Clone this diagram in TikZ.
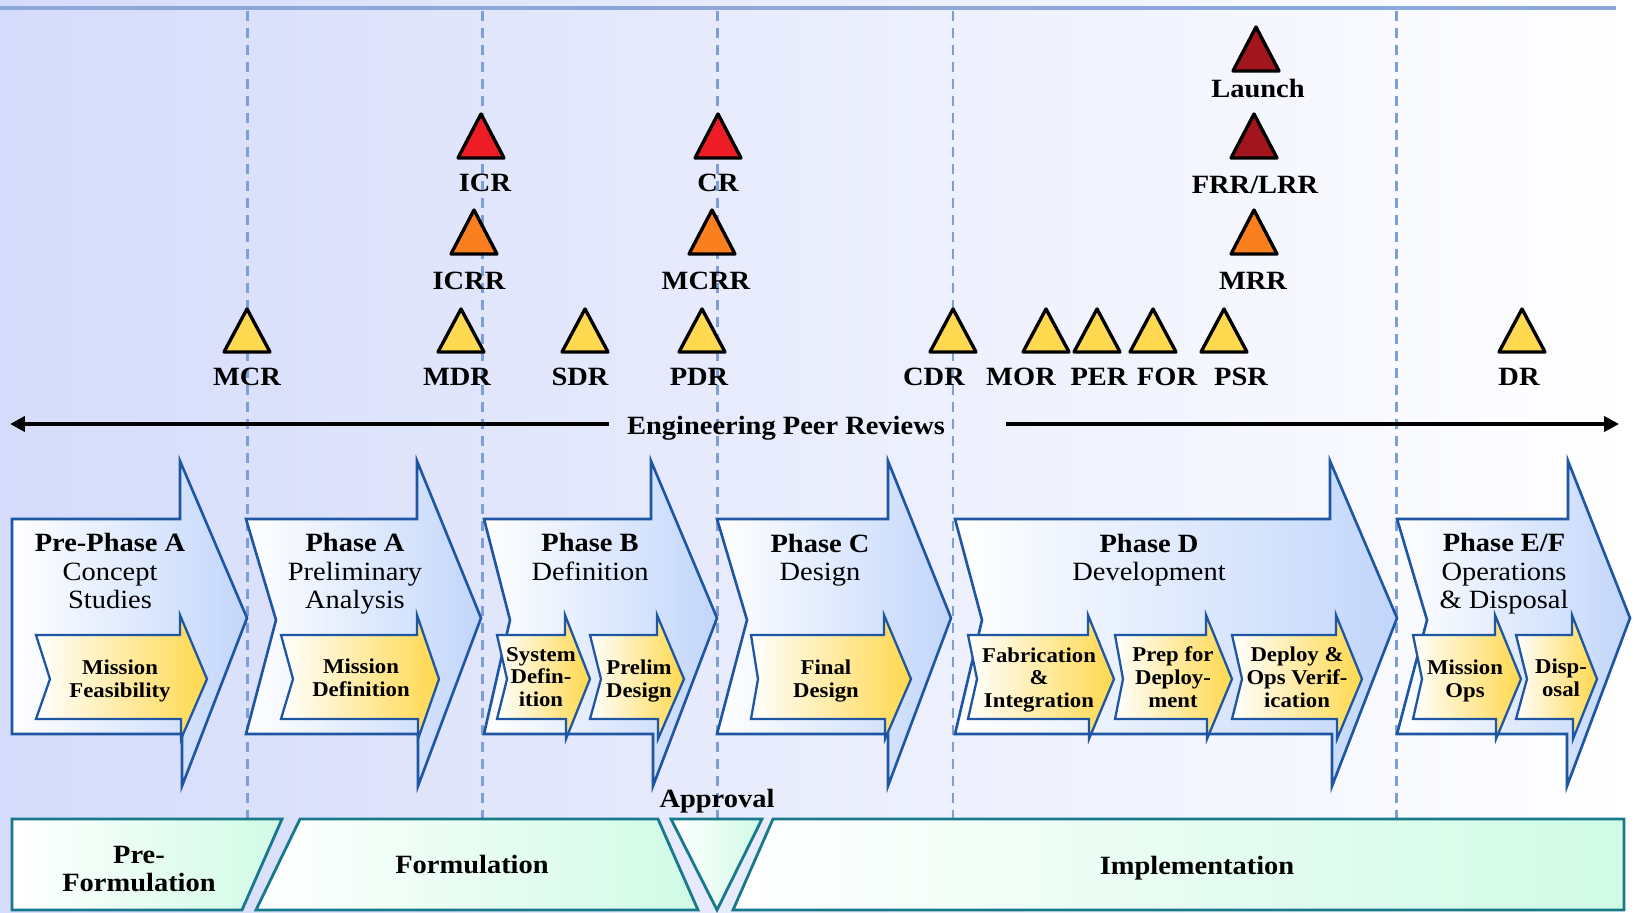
\documentclass[tikz,border=0pt]{standalone}
\usepackage{fontspec}
\setmainfont{Liberation Serif}[FakeStretch=1.08]
\usepackage{xcolor}
\usepackage{tikz}
\usetikzlibrary{positioning,arrows.meta,calc}

\definecolor{bgleft}{HTML}{D5DBFA}
\definecolor{topline}{HTML}{8CA8DB}
\definecolor{gridblue}{HTML}{7F9DD6}
\definecolor{phaseline}{HTML}{1F56A3}
\definecolor{phaseblue}{HTML}{C2D6FB}
\definecolor{taskgold}{HTML}{FFD84D}
\definecolor{stageline}{HTML}{18798A}
\definecolor{stagemint}{HTML}{D0FBE6}
\definecolor{msyellow}{HTML}{FFD94F}
\definecolor{msorange}{HTML}{F97F1F}
\definecolor{msred}{HTML}{EE1C25}
\definecolor{msdark}{HTML}{A3151D}

\begin{document}
\begin{tikzpicture}[
  x=0.02cm, y=-0.02cm,
  phase/.style={draw=phaseline, line width=1.5pt, left color=white,
                middle color=phaseblue!35!white, right color=phaseblue},
  task/.style={draw=phaseline, line width=1.3pt, left color=white,
               middle color=taskgold!45!white, right color=taskgold},
  stage/.style={draw=stageline, line width=1.6pt, left color=white,
                middle color=stagemint!45!white, right color=stagemint},
  mile/.style={draw=black, line width=1.9pt, line join=round},
  gate/.style={draw=gridblue, line width=1.4pt, dash pattern=on 0.2cm off 0.14cm},
  phasetxt/.style={align=center, font=\fontsize{15}{16.2}\selectfont},
  tasktxt/.style={align=center, font=\bfseries\fontsize{12}{13}\selectfont},
  lbl/.style={inner sep=0pt, font=\bfseries\fontsize{15}{16.2}\selectfont},
  peer/.style={line width=2.4pt, -{Triangle[length=0.3cm, width=0.3cm]}}
]
  \useasboundingbox (0,0) rectangle (1638,912);
  \shade[left color=bgleft, right color=white] (0,0) rectangle (1638,912);
  \draw[topline, line width=2pt] (0,8) -- (1616,8);

  % phase boundaries
  \draw[gate] (247.5,11) -- (247.5,819);
  \draw[gate] (482.7,11) -- (482.7,819);
  \draw[gate] (717.6,11) -- (717.6,819);
  \draw[gate] (952.8,11) -- (952.8,819);
  \draw[gate] (1396.5,11) -- (1396.5,819);

  % phases
  \draw[phase] (12,519) -- (180,519) -- (180,461) -- (247,618) -- (182,786) -- (182,734) -- (12,734) -- cycle;
  \draw[phase] (246,519) -- (417,519) -- (417,461) -- (481,618) -- (418,786) -- (418,734) -- (246,734) -- (276,620) -- cycle;
  \draw[phase] (484,519) -- (651,519) -- (651,461) -- (717,618) -- (653,786) -- (653,734) -- (484,734) -- (510,620) -- cycle;
  \draw[phase] (717,519) -- (888,519) -- (888,461) -- (951,618) -- (888,786) -- (888,734) -- (717,734) -- (747,620) -- cycle;
  \draw[phase] (955,519) -- (1330,519) -- (1330,461) -- (1397,618) -- (1332,786) -- (1332,734) -- (955,734) -- (982,620) -- cycle;
  \draw[phase] (1397,519) -- (1568,519) -- (1568,461) -- (1630,618) -- (1567,786) -- (1567,734) -- (1397,734) -- (1427,620) -- cycle;

  % tasks
  \draw[task] (36,635) -- (180,635) -- (180,615) -- (207,679) -- (181,739) -- (181,719) -- (36,719) -- (50,679) -- cycle;
  \draw[task] (281,635) -- (417,635) -- (417,615) -- (439,679) -- (418,739) -- (418,719) -- (281,719) -- (293,679) -- cycle;
  \draw[task] (497,635) -- (565,635) -- (565,615) -- (590,679) -- (566,739) -- (566,719) -- (497,719) -- (507,679) -- cycle;
  \draw[task] (590,635) -- (657,635) -- (657,615) -- (684,679) -- (658,739) -- (658,719) -- (590,719) -- (601,679) -- cycle;
  \draw[task] (751,635) -- (884,635) -- (884,615) -- (911,679) -- (885,739) -- (885,719) -- (751,719) -- (758,679) -- cycle;
  \draw[task] (968,635) -- (1088,635) -- (1088,615) -- (1114,679) -- (1089,739) -- (1089,719) -- (968,719) -- (977,679) -- cycle;
  \draw[task] (1115,635) -- (1206,635) -- (1206,615) -- (1232,679) -- (1207,739) -- (1207,719) -- (1115,719) -- (1123,679) -- cycle;
  \draw[task] (1232,635) -- (1336,635) -- (1336,615) -- (1362,679) -- (1337,739) -- (1337,719) -- (1232,719) -- (1242,679) -- cycle;
  \draw[task] (1413,635) -- (1495,635) -- (1495,615) -- (1521,679) -- (1496,739) -- (1496,719) -- (1413,719) -- (1422,679) -- cycle;
  \draw[task] (1516,635) -- (1572,635) -- (1572,615) -- (1597,679) -- (1573,739) -- (1573,719) -- (1516,719) -- (1527,679) -- cycle;

  \node[phasetxt] (prea) at (110,571) {\textbf{Pre-Phase A}\\Concept\\Studies};
  \node[phasetxt] (pha) at (355,574) {\textbf{Phase A}\\Preliminary\\Analysis};
  \node[phasetxt] (phb) at (590,557) {\textbf{Phase B}\\Definition};
  \node[phasetxt] (phc) at (820,560) {\textbf{Phase C}\\Design};
  \node[phasetxt] (phd) at (1149,560) {\textbf{Phase D}\\Development};
  \node[phasetxt] (phef) at (1504,574) {\textbf{Phase E/F}\\Operations\\\& Disposal};

  \node[tasktxt] (feas) at (120,681) {Mission\\Feasibility};
  \node[tasktxt] (mdef) at (361,678) {Mission\\Definition};
  \node[tasktxt] (sysdef) at (541,677) {System\\Defin-\\ition};
  \node[tasktxt] (prelim) at (639,681) {Prelim\\Design};
  \node[tasktxt] (final) at (826,681) {Final\\Design};
  \node[tasktxt] (fabint) at (1039,680) {Fabrication\\\&\\Integration};
  \node[tasktxt] (prepdep) at (1173,677) {Prep for\\Deploy-\\ment};
  \node[tasktxt] (depops) at (1297,677) {Deploy \&\\Ops Verif-\\ication};
  \node[tasktxt] (misops) at (1465,681) {Mission\\Ops};
  \node[tasktxt] (disp) at (1561,678) {Disp-\\osal};

  % milestones
  \draw[mile, fill=msyellow] (224,352) -- ++(23,-43) -- ++(23,43) -- cycle;
  \draw[mile, fill=msyellow] (438,352) -- ++(23,-43) -- ++(23,43) -- cycle;
  \draw[mile, fill=msyellow] (562,352) -- ++(23,-43) -- ++(23,43) -- cycle;
  \draw[mile, fill=msyellow] (679,352) -- ++(23,-43) -- ++(23,43) -- cycle;
  \draw[mile, fill=msyellow] (930,352) -- ++(23,-43) -- ++(23,43) -- cycle;
  \draw[mile, fill=msyellow] (1023,352) -- ++(23,-43) -- ++(23,43) -- cycle;
  \draw[mile, fill=msyellow] (1074,352) -- ++(23,-43) -- ++(23,43) -- cycle;
  \draw[mile, fill=msyellow] (1130,352) -- ++(23,-43) -- ++(23,43) -- cycle;
  \draw[mile, fill=msyellow] (1201,352) -- ++(23,-43) -- ++(23,43) -- cycle;
  \draw[mile, fill=msyellow] (1499,352) -- ++(23,-43) -- ++(23,43) -- cycle;
  \draw[mile, fill=msorange] (451,254) -- ++(23,-44) -- ++(23,44) -- cycle;
  \draw[mile, fill=msorange] (689,254) -- ++(23,-44) -- ++(23,44) -- cycle;
  \draw[mile, fill=msorange] (1231,254) -- ++(23,-44) -- ++(23,44) -- cycle;
  \draw[mile, fill=msred] (458,158) -- ++(23,-44) -- ++(23,44) -- cycle;
  \draw[mile, fill=msred] (695,158) -- ++(23,-44) -- ++(23,44) -- cycle;
  \draw[mile, fill=msdark] (1231,158) -- ++(23,-44) -- ++(23,44) -- cycle;
  \draw[mile, fill=msdark] (1233,71) -- ++(23,-44) -- ++(23,44) -- cycle;

  \node[lbl] (mcr) at (247,377) {MCR};
  \node[lbl] (mdr) at (457,377) {MDR};
  \node[lbl] (sdr) at (580,377) {SDR};
  \node[lbl] (pdr) at (699,377) {PDR};
  \node[lbl] (cdr) at (934,377) {CDR};
  \node[lbl] (mor) at (1021,377) {MOR};
  \node[lbl] (per) at (1099,377) {PER};
  \node[lbl] (for) at (1167,377) {FOR};
  \node[lbl] (psr) at (1241,377) {PSR};
  \node[lbl] (dr) at (1519,377) {DR};
  \node[lbl] (icrr) at (469,281) {ICRR};
  \node[lbl] (mcrr) at (706,281) {MCRR};
  \node[lbl] (mrr) at (1253,281) {MRR};
  \node[lbl] (icr) at (485,183) {ICR};
  \node[lbl] (cr) at (718,183) {CR};
  \node[lbl] (frr) at (1255,185) {FRR/LRR};
  \node[lbl] (launch) at (1258,89) {Launch};

  % peer reviews
  \node[lbl] (peer) at (786,428) {Engineering Peer Reviews};
  \coordinate (peerL) at (10,424);
  \coordinate (peerR) at (1619,424);
  \draw[peer] ($(peerL -| peer.west)+(-18,0)$) -- (peerL);
  \draw[peer] ($(peerR -| peer.east)+(61,0)$) -- (peerR);

  % life cycle stages
  \draw[stage] (12,819) -- (282,819) -- (242,910) -- (12,910) -- cycle;
  \draw[stage] (300,819) -- (658,819) -- (698,910) -- (256,910) -- cycle;
  \draw[stage] (671,819) -- (762,819) -- (717,910) -- cycle;
  \draw[stage] (773,819) -- (1624,819) -- (1624,910) -- (733,910) -- cycle;

  \node[lbl, align=center] (prefor) at (139,869) {Pre-\\Formulation};
  \node[lbl] (formul) at (472,865) {Formulation};
  \node[lbl] (impl) at (1197,868) {Implementation};
  \node[lbl] (approval) at (717,801) {Approval};
\end{tikzpicture}
\end{document}
